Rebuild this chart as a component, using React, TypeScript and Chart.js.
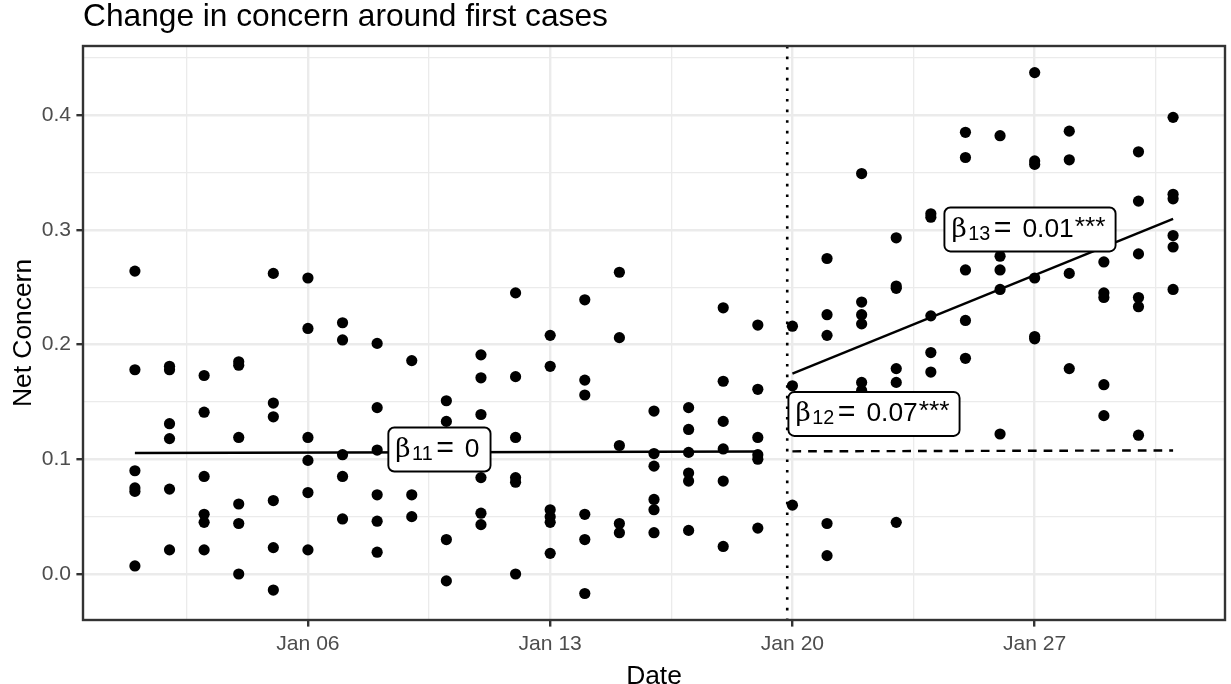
import React, { useEffect, useRef } from "react";
import { Chart, registerables } from "chart.js";

Chart.register(...registerables);

// ---- data -------------------------------------------------------------
// Day of January 2020 for each group of daily observations
const dayNumbers = [
  1, 2, 3, 4, 5, 6, 7, 8, 9, 10, 11, 12, 13, 14, 15, 16,
  17, 18, 19, 20, 21, 22, 23, 24, 25, 26, 27, 28, 29, 30, 31,
];

// Net concern observations, one list per day
const concernByDay: number[][] = [
  [0.264, 0.178, 0.09, 0.075, 0.072, 0.007],
  [0.181, 0.178, 0.131, 0.118, 0.074, 0.021],
  [0.173, 0.141, 0.085, 0.052, 0.045, 0.021],
  [0.185, 0.182, 0.119, 0.061, 0.044, 0.0],
  [0.262, 0.149, 0.137, 0.064, 0.023, -0.014],
  [0.258, 0.214, 0.119, 0.099, 0.071, 0.021],
  [0.219, 0.204, 0.104, 0.085, 0.048],
  [0.201, 0.145, 0.108, 0.069, 0.046, 0.019],
  [0.186, 0.069, 0.05],
  [0.151, 0.133, 0.03, -0.006],
  [0.191, 0.171, 0.139, 0.084, 0.053, 0.043],
  [0.245, 0.172, 0.119, 0.084, 0.08, 0.0],
  [0.208, 0.181, 0.056, 0.05, 0.045, 0.018],
  [0.239, 0.169, 0.156, 0.052, 0.03, -0.017],
  [0.263, 0.206, 0.112, 0.044, 0.036],
  [0.142, 0.105, 0.094, 0.065, 0.056, 0.036],
  [0.145, 0.126, 0.106, 0.088, 0.081, 0.038],
  [0.232, 0.168, 0.133, 0.109, 0.081, 0.024],
  [0.217, 0.161, 0.119, 0.104, 0.1, 0.04],
  [0.216, 0.164, 0.06],
  [0.275, 0.226, 0.208, 0.044, 0.016],
  [0.349, 0.237, 0.226, 0.218, 0.167, 0.16],
  [0.293, 0.251, 0.249, 0.179, 0.167, 0.045],
  [0.314, 0.311, 0.225, 0.193, 0.176],
  [0.385, 0.363, 0.265, 0.221, 0.188],
  [0.382, 0.277, 0.265, 0.248, 0.122],
  [0.437, 0.36, 0.357, 0.258, 0.207, 0.205],
  [0.386, 0.361, 0.262, 0.179],
  [0.272, 0.245, 0.241, 0.165, 0.138],
  [0.368, 0.325, 0.279, 0.241, 0.233, 0.121],
  [0.398, 0.331, 0.327, 0.295, 0.285, 0.248],
];

// Fitted segments (start / end day and value)
const preFitDays = [1, 19];
const preFitValues = [0.1055, 0.1068];
const counterfactualDays = [20, 31];
const counterfactualValues = [0.1069, 0.1077];
const postFitDays = [20, 31];
const postFitValues = [0.1747, 0.3096];

// First reported cases
const firstCaseDay = 19.85;

// Axis ticks
const xMajorTicks = [6, 13, 20, 27];
const xMajorLabels = ["Jan 06", "Jan 13", "Jan 20", "Jan 27"];
const xMinorTicks = [2.5, 9.5, 16.5, 23.5, 30.5];
const yMajorTicks = [0, 0.1, 0.2, 0.3, 0.4];
const yMinorTicks = [0.05, 0.15, 0.25, 0.35, 0.45];

// Coefficient annotations
const coefSubscripts = ["11", "12", "13"];
const coefValues = ["0", "0.07", "0.01"];
const coefStars = ["", "***", "***"];
const coefDays = [9.8, 22.357, 26.865];
const coefLevels = [0.1085, 0.1395, 0.3003];

const titleText = "Change in concern around first cases";
const xTitle = "Date";
const yTitle = "Net Concern";

// ---- styling ------------------------------------------------------------
const SANS = '"Liberation Sans", Arial, Helvetica, sans-serif';
const SERIF = '"DejaVu Serif", "Liberation Serif", serif';
const GRID = "#EBEBEB";
const BORDER = "#333333";
const TICK_TEXT = "#4D4D4D";

const xMin = -0.5;
const xMax = 32.5;
const yMin = -0.0401;
const yMax = 0.4602;

const isMajorX = (v: number) => xMajorTicks.includes(v);
const isMajorY = (v: number) => yMajorTicks.some((t) => Math.abs(t - v) < 1e-9);

const decorPlugin = {
  id: "panelDecor",
  afterDatasetsDraw(chart: any) {
    const { ctx, chartArea, scales } = chart;
    const xs = scales.x;
    const ys = scales.y;

    // dotted line marking the first cases
    ctx.save();
    ctx.beginPath();
    ctx.rect(chartArea.left, chartArea.top, chartArea.right - chartArea.left, chartArea.bottom - chartArea.top);
    ctx.clip();
    const vx = xs.getPixelForValue(firstCaseDay);
    ctx.strokeStyle = "#000";
    ctx.lineWidth = 2.6;
    ctx.setLineDash([2.6, 8]);
    ctx.beginPath();
    ctx.moveTo(vx, chartArea.top);
    ctx.lineTo(vx, chartArea.bottom);
    ctx.stroke();
    ctx.restore();

    // coefficient labels
    const fs = 26.4;
    for (let i = 0; i < coefSubscripts.length; i++) {
      const cx = xs.getPixelForValue(coefDays[i]);
      const cy = ys.getPixelForValue(coefLevels[i]);

      ctx.save();
      ctx.font = `${fs}px ${SERIF}`;
      const betaW = ctx.measureText("\u03b2").width;
      ctx.font = `${fs * 0.75}px ${SANS}`;
      const subW = ctx.measureText(coefSubscripts[i]).width;
      ctx.font = `${fs * 1.15}px ${SANS}`;
      const eqW = ctx.measureText("=").width;
      ctx.font = `${fs}px ${SANS}`;
      const valW = ctx.measureText(coefValues[i]).width;
      const starW = coefStars[i] ? ctx.measureText(coefStars[i]).width : 0;

      const xSub = betaW + 1.5;
      const xEq = xSub + subW + 3.5;
      const xVal = xEq + eqW + 11;
      const xStar = xVal + valW + 1;
      const contentW = xStar + starW;
      const padL = 7;
      const padR = 10;
      const boxW = contentW + padL + padR;
      const boxH = 44;
      const left = cx - boxW / 2;
      const top = cy - boxH / 2;

      ctx.beginPath();
      ctx.roundRect(left, top, boxW, boxH, 6);
      ctx.fillStyle = "#fff";
      ctx.fill();
      ctx.lineWidth = 1.9;
      ctx.strokeStyle = "#000";
      ctx.stroke();

      const base = cy + 7.5;
      const x0 = left + padL;
      ctx.fillStyle = "#000";
      ctx.textBaseline = "alphabetic";
      ctx.textAlign = "left";
      ctx.font = `${fs}px ${SERIF}`;
      ctx.fillText("\u03b2", x0, base);
      ctx.font = `${fs * 0.75}px ${SANS}`;
      ctx.fillText(coefSubscripts[i], x0 + xSub, base + 3);
      ctx.font = `${fs * 1.15}px ${SANS}`;
      ctx.fillText("=", x0 + xEq, base);
      ctx.font = `${fs}px ${SANS}`;
      ctx.fillText(coefValues[i], x0 + xVal, base);
      if (coefStars[i]) ctx.fillText(coefStars[i], x0 + xStar, base - 2);
      ctx.restore();
    }
  },
  afterDraw(chart: any) {
    const { ctx, chartArea } = chart;
    ctx.save();
    // panel border
    ctx.strokeStyle = BORDER;
    ctx.lineWidth = 2.4;
    ctx.strokeRect(chartArea.left, chartArea.top, chartArea.right - chartArea.left, chartArea.bottom - chartArea.top);

    // plot title
    ctx.fillStyle = "#000";
    ctx.textBaseline = "alphabetic";
    ctx.textAlign = "left";
    ctx.font = `31.7px ${SANS}`;
    ctx.fillText(titleText, chartArea.left, 25.5);

    // axis titles
    ctx.font = `26.4px ${SANS}`;
    ctx.textAlign = "center";
    ctx.fillText(xTitle, (chartArea.left + chartArea.right) / 2, 683.5);
    ctx.save();
    ctx.translate(31, (chartArea.top + chartArea.bottom) / 2);
    ctx.rotate(-Math.PI / 2);
    ctx.fillText(yTitle, 0, 0);
    ctx.restore();
    ctx.restore();
  },
};

export default function App() {
  const canvasRef = useRef<HTMLCanvasElement | null>(null);

  useEffect(() => {
    const canvas = canvasRef.current;
    if (!canvas) return;

    const points = concernByDay.flatMap((vals, i) =>
      vals.map((v) => ({ x: dayNumbers[i], y: v }))
    );
    const seg = (days: number[], vals: number[]) =>
      days.map((d, i) => ({ x: d, y: vals[i] }));

    const chart = new Chart(canvas, {
      type: "scatter",
      data: {
        datasets: [
          {
            label: "Net concern",
            data: points,
            pointRadius: 5.6,
            pointBackgroundColor: "#000",
            pointBorderWidth: 0,
            pointHoverRadius: 5.6,
            order: 3,
          },
          {
            label: "Pre-period fit",
            data: seg(preFitDays, preFitValues),
            showLine: true,
            borderColor: "#000",
            borderWidth: 2.4,
            pointRadius: 0,
            order: 2,
          },
          {
            label: "Counterfactual",
            data: seg(counterfactualDays, counterfactualValues),
            showLine: true,
            borderColor: "#000",
            borderWidth: 2.4,
            borderDash: [8.7, 7],
            pointRadius: 0,
            order: 2,
          },
          {
            label: "Post-period fit",
            data: seg(postFitDays, postFitValues),
            showLine: true,
            borderColor: "#000",
            borderWidth: 2.4,
            pointRadius: 0,
            order: 2,
          },
        ],
      },
      options: {
        animation: false,
        responsive: false,
        events: [],
        layout: { padding: { top: 46, right: 6, bottom: 0, left: 0 } },
        plugins: {
          legend: { display: false },
          title: { display: false },
          tooltip: { enabled: false },
        },
        scales: {
          x: {
            type: "linear",
            min: xMin,
            max: xMax,
            afterBuildTicks: (scale: any) => {
              scale.ticks = [...xMinorTicks, ...xMajorTicks]
                .sort((a, b) => a - b)
                .map((v) => ({ value: v }));
            },
            afterFit: (scale: any) => {
              scale.height = 64;
            },
            ticks: {
              autoSkip: false,
              maxRotation: 0,
              minRotation: 0,
              padding: 5,
              color: TICK_TEXT,
              font: { family: SANS, size: 21.1 },
              callback: (value: any) => {
                const idx = xMajorTicks.indexOf(Number(value));
                return idx >= 0 ? xMajorLabels[idx] : "";
              },
            },
            grid: {
              color: GRID,
              lineWidth: (c: any) => (isMajorX(c.tick?.value) ? 2.4 : 1.3),
              tickColor: (c: any) => (isMajorX(c.tick?.value) ? BORDER : "rgba(0,0,0,0)"),
              tickWidth: 2.4,
              tickLength: 6.6,
              drawTicks: true,
            },
            border: { display: false },
          },
          y: {
            type: "linear",
            min: yMin,
            max: yMax,
            afterBuildTicks: (scale: any) => {
              scale.ticks = [...yMajorTicks, ...yMinorTicks]
                .sort((a, b) => a - b)
                .map((v) => ({ value: v }));
            },
            afterFit: (scale: any) => {
              scale.width = 83;
            },
            ticks: {
              autoSkip: false,
              padding: 5.3,
              color: TICK_TEXT,
              font: { family: SANS, size: 21.1 },
              callback: (value: any) => (isMajorY(Number(value)) ? Number(value).toFixed(1) : ""),
            },
            grid: {
              color: GRID,
              lineWidth: (c: any) => (isMajorY(c.tick?.value) ? 2.4 : 1.3),
              tickColor: (c: any) => (isMajorY(c.tick?.value) ? BORDER : "rgba(0,0,0,0)"),
              tickWidth: 2.4,
              tickLength: 6.6,
              drawTicks: true,
            },
            border: { display: false },
          },
        },
      },
      plugins: [decorPlugin],
    } as any);

    return () => chart.destroy();
  }, []);

  return (
    <div style={{ position: "fixed", left: 0, top: 0, width: 1231, height: 684, background: "#fff" }}>
      <canvas ref={canvasRef} width={1231} height={684} style={{ display: "block", width: 1231, height: 684 }} />
    </div>
  );
}
